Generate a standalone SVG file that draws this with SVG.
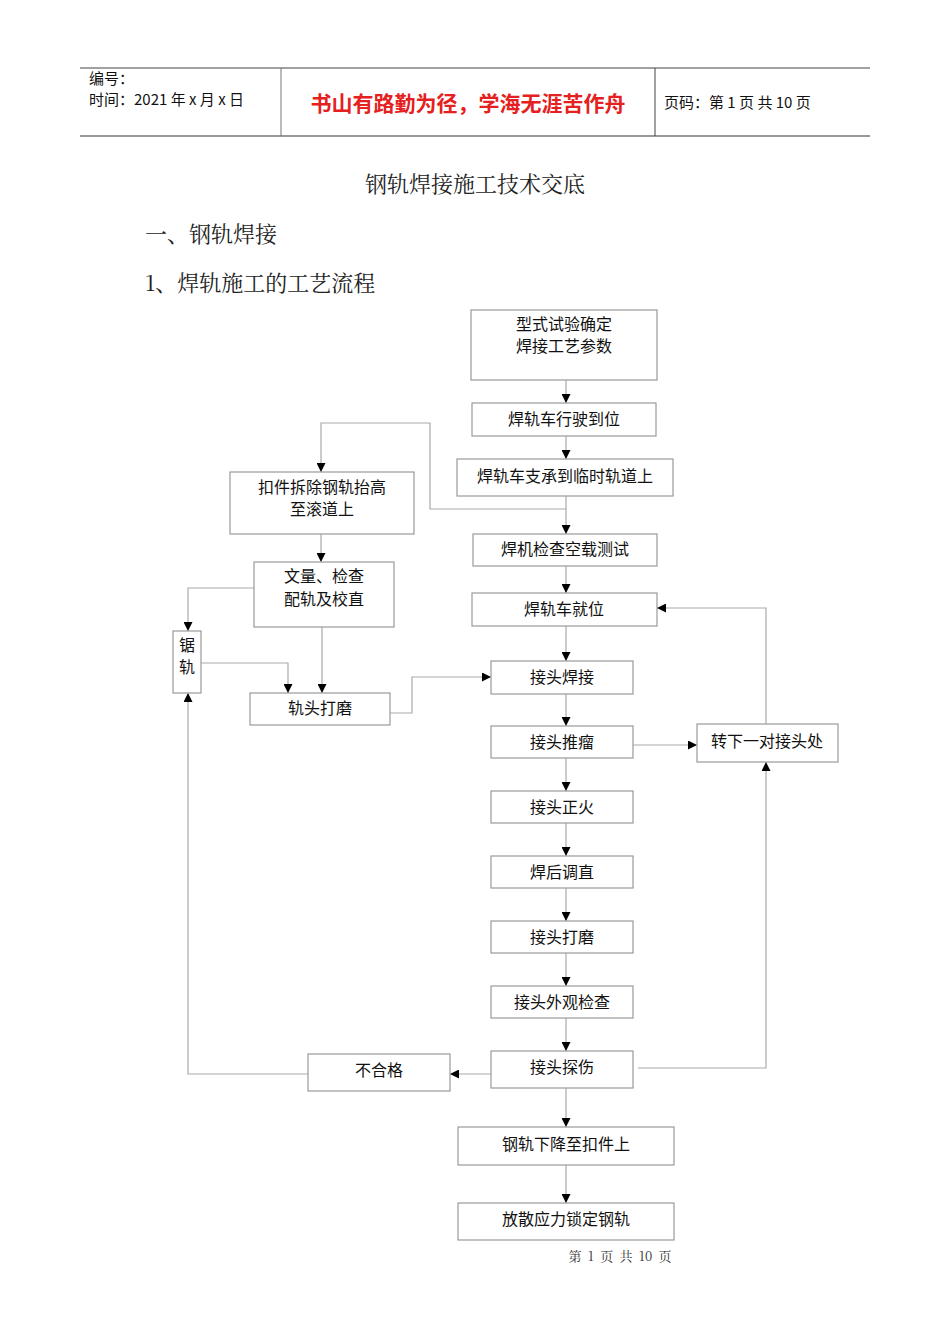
<svg xmlns="http://www.w3.org/2000/svg" width="950" height="1344" viewBox="0 0 950 1344">
<style>
.b{fill:#fff;stroke:#9a9a9a;stroke-width:1.2}
.t{font-family:"Noto Sans CJK SC","Liberation Sans",sans-serif;font-size:16px;fill:#111;text-anchor:middle}
.c{fill:none;stroke:#aaa;stroke-width:1.2}
.h{font-family:"Noto Sans CJK SC",sans-serif;font-size:15px;fill:#111}
.s{font-family:"Noto Serif CJK SC","Liberation Serif","Noto Sans CJK SC",serif;font-size:22px;fill:#222}
</style>
<defs><marker id="a" viewBox="0 0 10 10" refX="10" refY="5" markerWidth="9" markerHeight="9" orient="auto" markerUnits="userSpaceOnUse"><path d="M0,0L10,5L0,10z" fill="#000"/></marker></defs>
<rect width="950" height="1344" fill="#fff"/>
<g id="header">
<line x1="80" y1="68" x2="870" y2="68" stroke="#444" stroke-width="1.2"/>
<line x1="80" y1="136" x2="870" y2="136" stroke="#777" stroke-width="1.5"/>
<line x1="281" y1="68" x2="281" y2="136" stroke="#777"/>
<line x1="655" y1="68" x2="655" y2="136" stroke="#444"/>
<text class="h" x="89" y="84">编号：</text>
<text class="h" x="89" y="105">时间：2021 年 x 月 x 日</text>
<text x="468" y="111" font-family="Noto Sans CJK SC,sans-serif" font-size="21" font-weight="bold" fill="#e52020" text-anchor="middle">书山有路勤为径，学海无涯苦作舟</text>
<text class="h" x="664" y="108">页码：第 1 页  共 10 页</text>
</g>
<text class="s" x="475" y="192" text-anchor="middle">钢轨焊接施工技术交底</text>
<text class="s" x="145" y="242">一、钢轨焊接</text>
<text class="s" x="145" y="291">1、焊轨施工的工艺流程</text>
<g id="connectors" class="c" marker-end="url(#a)">
<path d="M566,380V403"/><path d="M566,436V459"/><path d="M566,496V534"/>
<path d="M566,509H430V423H321V472"/>
<path d="M566,566V593"/><path d="M566,626V661"/><path d="M566,694V726"/>
<path d="M566,758V791"/><path d="M566,823V856"/><path d="M566,888V921"/>
<path d="M566,953V986"/><path d="M566,1018V1051"/><path d="M566,1088V1127"/><path d="M566,1165V1203"/>
<path d="M321,534V562"/><path d="M254,588H188V631"/><path d="M201,663H288V693"/>
<path d="M322,627V693"/><path d="M390,713H412V677H491"/>
<path d="M633,745H697"/><path d="M766,724V608H657"/><path d="M638,1068H766V762"/>
<path d="M491,1074H450"/><path d="M308,1074H188V693"/>
</g>
<g id="n1"><rect class="b" x="471" y="310" width="186" height="70"/><text class="t" x="564" y="330">型式试验确定</text><text class="t" x="564" y="352">焊接工艺参数</text></g>
<g id="n2"><rect class="b" x="472" y="403" width="184" height="33"/><text class="t" x="564" y="425">焊轨车行驶到位</text></g>
<g id="n3"><rect class="b" x="457" y="459" width="216" height="37"/><text class="t" x="565" y="482">焊轨车支承到临时轨道上</text></g>
<g id="n4"><rect class="b" x="230" y="472" width="184" height="62"/><text class="t" x="322" y="493">扣件拆除钢轨抬高</text><text class="t" x="322" y="515">至滚道上</text></g>
<g id="n5"><rect class="b" x="473" y="534" width="184" height="32"/><text class="t" x="565" y="555">焊机检查空载测试</text></g>
<g id="n6"><rect class="b" x="254" y="562" width="140" height="65"/><text class="t" x="324" y="582">文量、检查</text><text class="t" x="324" y="605">配轨及校直</text></g>
<g id="n7"><rect class="b" x="472" y="593" width="185" height="33"/><text class="t" x="564" y="615">焊轨车就位</text></g>
<g id="n8"><rect class="b" x="173" y="631" width="28" height="62"/><text class="t" x="187" y="651">锯</text><text class="t" x="187" y="673">轨</text></g>
<g id="n9"><rect class="b" x="491" y="661" width="142" height="33"/><text class="t" x="562" y="683">接头焊接</text></g>
<g id="n10"><rect class="b" x="250" y="693" width="140" height="32"/><text class="t" x="320" y="714">轨头打磨</text></g>
<g id="n11"><rect class="b" x="491" y="726" width="142" height="32"/><text class="t" x="562" y="748">接头推瘤</text></g>
<g id="n12"><rect class="b" x="697" y="724" width="141" height="38"/><text class="t" x="767" y="747">转下一对接头处</text></g>
<g id="n13"><rect class="b" x="491" y="791" width="142" height="32"/><text class="t" x="562" y="813">接头正火</text></g>
<g id="n14"><rect class="b" x="491" y="856" width="142" height="32"/><text class="t" x="562" y="878">焊后调直</text></g>
<g id="n15"><rect class="b" x="491" y="921" width="142" height="32"/><text class="t" x="562" y="943">接头打磨</text></g>
<g id="n16"><rect class="b" x="491" y="986" width="142" height="32"/><text class="t" x="562" y="1008">接头外观检查</text></g>
<g id="n17"><rect class="b" x="491" y="1051" width="142" height="37"/><text class="t" x="562" y="1073">接头探伤</text></g>
<g id="n18"><rect class="b" x="308" y="1054" width="142" height="37"/><text class="t" x="379" y="1076">不合格</text></g>
<g id="n19"><rect class="b" x="458" y="1127" width="216" height="38"/><text class="t" x="566" y="1150">钢轨下降至扣件上</text></g>
<g id="n20"><rect class="b" x="458" y="1203" width="216" height="37"/><text class="t" x="566" y="1225">放散应力锁定钢轨</text></g>
<text x="620" y="1261" font-family="Noto Serif CJK SC,Liberation Serif,serif" font-size="13" fill="#333" text-anchor="middle" word-spacing="3">第 1 页 共 10 页</text>
</svg>
